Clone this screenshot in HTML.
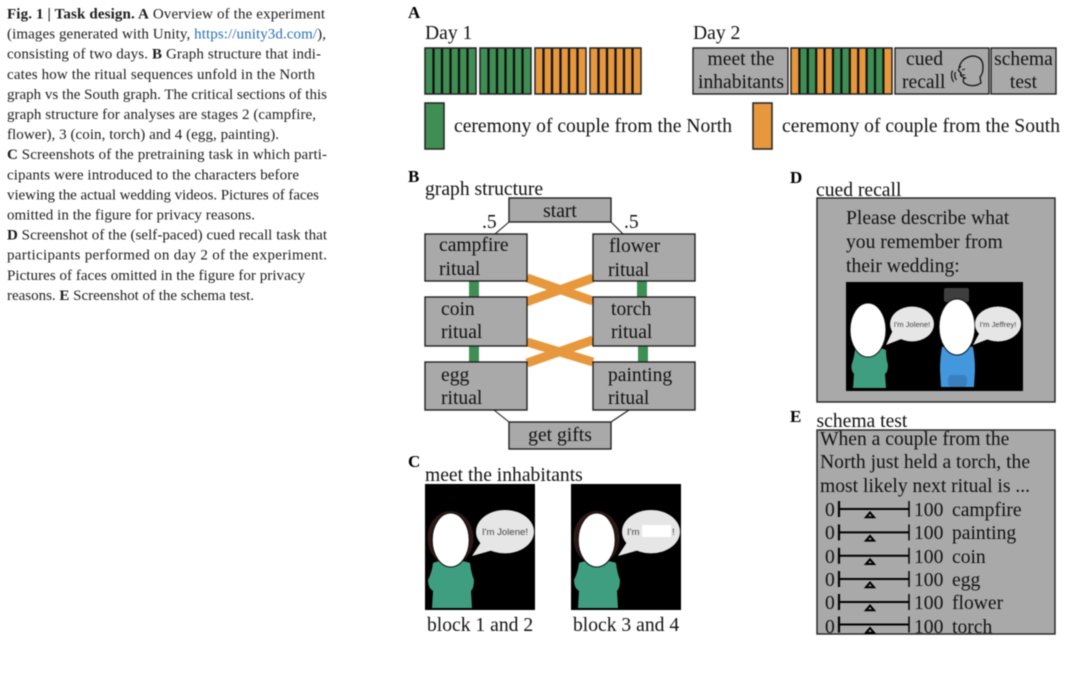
<!DOCTYPE html>
<html>
<head>
<meta charset="utf-8">
<style>
html,body{margin:0;padding:0;background:#fff;width:1080px;height:675px;overflow:hidden}
svg{display:block;filter:blur(.4px)}
text{font-family:"Liberation Serif",serif;fill:#111}
.c{font-size:15px;fill:#1c1c1c}
.t{font-size:19.6px}
.p{font-size:17px;font-weight:bold;fill:#000}
.s{font-family:"Liberation Sans",sans-serif;fill:#444}
.box{fill:#a9a9a9;stroke:#1c1c1c;stroke-width:1.35}
.m{text-anchor:middle}
</style>
</head>
<body>
<svg width="1080" height="675" viewBox="0 0 1080 675" xmlns="http://www.w3.org/2000/svg">
<defs>
<g id="gb"><rect x="0" y="0" width="51" height="46" fill="#3f8f55"/><path d="M8.5 0V46M17 0V46M25.5 0V46M34 0V46M42.5 0V46" stroke="#111" stroke-width="2.3"/><rect x="0" y="0" width="51" height="46" fill="none" stroke="#222" stroke-width="1.5"/></g>
<g id="ob"><rect x="0" y="0" width="51" height="46" fill="#e8983c"/><path d="M8.5 0V46M17 0V46M25.5 0V46M34 0V46M42.5 0V46" stroke="#111" stroke-width="2.3"/><rect x="0" y="0" width="51" height="46" fill="none" stroke="#222" stroke-width="1.5"/></g>
<g id="sl" fill="none" stroke="#000"><path d="M839 -8V8" stroke-width="2.2"/><path d="M839 0H909" stroke-width="2"/><path d="M909 -8V8" stroke-width="1.5"/><path d="M870 3.5L874 8.2H866Z" stroke-width="2" fill="#a9a9a9"/></g>
<g id="wm">
<rect x="0" y="0" width="110" height="126" fill="#000"/>
<ellipse cx="25.5" cy="54" rx="23" ry="27" fill="#301818"/>
<path d="M8 79Q14 76 25 77Q38 76 45 79Q46 88 49 96Q49 104 46 107L47 124H7L8 107Q3 104 3 96Q7 88 8 79Z" fill="#3f9e7f"/>
<ellipse cx="25.7" cy="56" rx="18.5" ry="27" fill="#fff" stroke="#111" stroke-width="1"/>
<path d="M47 72L58 55L72 65Z" fill="#e6e6e6"/>
<ellipse cx="80" cy="47.7" rx="29" ry="21.7" fill="#e6e6e6"/>
</g>
</defs>

<!-- Caption -->
<text class="c" x="7" y="18.5" textLength="318"><tspan font-weight="bold">Fig. 1 | Task design. A</tspan> Overview of the experiment</text>
<text class="c" x="7" y="38.6" textLength="319">(images generated with Unity, <tspan fill="#2a6fb0">https://unity3d.com/</tspan>),</text>
<text class="c" x="7" y="58.7" textLength="314">consisting of two days. <tspan font-weight="bold">B</tspan> Graph structure that indi-</text>
<text class="c" x="7" y="78.8" textLength="308">cates how the ritual sequences unfold in the North</text>
<text class="c" x="7" y="98.9" textLength="320">graph vs the South graph. The critical sections of this</text>
<text class="c" x="7" y="119" textLength="309">graph structure for analyses are stages 2 (campfire,</text>
<text class="c" x="7" y="139.1" textLength="272">flower), 3 (coin, torch) and 4 (egg, painting).</text>
<text class="c" x="7" y="159.2" textLength="320"><tspan font-weight="bold">C</tspan> Screenshots of the pretraining task in which parti-</text>
<text class="c" x="7" y="179.3" textLength="292">cipants were introduced to the characters before</text>
<text class="c" x="7" y="199.4" textLength="312">viewing the actual wedding videos. Pictures of faces</text>
<text class="c" x="7" y="219.5" textLength="248">omitted in the figure for privacy reasons.</text>
<text class="c" x="7" y="239.6" textLength="320"><tspan font-weight="bold">D</tspan> Screenshot of the (self-paced) cued recall task that</text>
<text class="c" x="7" y="259.7" textLength="320">participants performed on day 2 of the experiment.</text>
<text class="c" x="7" y="279.8" textLength="298">Pictures of faces omitted in the figure for privacy</text>
<text class="c" x="7" y="299.9" textLength="247">reasons. <tspan font-weight="bold">E</tspan> Screenshot of the schema test.</text>

<!-- Panel A -->
<text class="p" x="408" y="18">A</text>
<text class="t" x="425" y="39">Day 1</text>
<text class="t" x="693" y="39">Day 2</text>
<use href="#gb" x="425" y="48"/>
<use href="#gb" x="480" y="48"/>
<use href="#ob" x="535" y="48"/>
<use href="#ob" x="590" y="48"/>
<rect class="box" x="693" y="48" width="95" height="46"/>
<text class="t m" x="741" y="65">meet the</text>
<text class="t m" x="741" y="88">inhabitants</text>
<g>
<rect x="791" y="48" width="101" height="46" fill="#e8983c"/>
<rect x="799.4" y="48" width="16.8" height="46" fill="#3f8f55"/>
<rect x="833" y="48" width="16.8" height="46" fill="#3f8f55"/>
<rect x="866.6" y="48" width="16.8" height="46" fill="#3f8f55"/>
<path d="M799.4 48V94M807.8 48V94M816.2 48V94M824.6 48V94M833 48V94M841.4 48V94M849.8 48V94M858.2 48V94M866.6 48V94M875 48V94M883.4 48V94" stroke="#111" stroke-width="2.2"/>
<rect x="791" y="48" width="101" height="46" fill="none" stroke="#222" stroke-width="1.5"/>
</g>
<rect class="box" x="895" y="48" width="94" height="46"/>
<text class="t" x="906" y="65">cued</text>
<text class="t" x="902" y="88">recall</text>
<path d="M959 68Q961 58 972 56Q983 56 983 67Q983 74 980 77L981 83Q975 87 968 85L964 83Q962 79 965 78Q959 76 961 73L958 70" fill="none" stroke="#111" stroke-width="1.25"/>
<path d="M958 70L961 66M962 70L965 69M961 75L965 75" fill="none" stroke="#111" stroke-width="1"/>
<path d="M955.5 72Q953.5 76 956.5 80M952.5 70.5Q950 76 953.5 82" fill="none" stroke="#111" stroke-width="1.2"/>
<rect class="box" x="991" y="48" width="65" height="46"/>
<text class="t m" x="1023.5" y="65">schema</text>
<text class="t m" x="1023.5" y="88">test</text>
<rect x="425" y="103" width="19" height="46" fill="#3f8f55" stroke="#222" stroke-width="1.5"/>
<text class="t" x="454" y="132">ceremony of couple from the North</text>
<rect x="753" y="103" width="19" height="46" fill="#e8983c" stroke="#222" stroke-width="1.5"/>
<text class="t" x="782" y="132">ceremony of couple from the South</text>

<!-- Panel B -->
<text class="p" x="408" y="182">B</text>
<text class="t" x="425" y="195">graph structure</text>
<text class="t" x="482" y="228">.5</text>
<text class="t" x="624" y="228">.5</text>
<path d="M509 222L495 234M611 222L623 234M494 410L509 422M629 410L611 422" stroke="#1c1c1c" stroke-width="1.1" fill="none"/>
<path d="M474 281V297M474 346V362M642 281V297M643 346V362" stroke="#3f8f55" stroke-width="10" fill="none"/>
<path d="M527 278L593 301M526 302L593 278M527 342L593 362M527 363L593 340" stroke="#e8983c" stroke-width="9" fill="none"/>
<rect class="box" x="509" y="198" width="102" height="24"/>
<text class="t m" x="560" y="217">start</text>
<rect class="box" x="425" y="234" width="102" height="47"/>
<text class="t" x="439" y="251">campfire</text>
<text class="t" x="439" y="275">ritual</text>
<rect class="box" x="593" y="234" width="102" height="47"/>
<text class="t" x="609" y="252">flower</text>
<text class="t" x="608" y="276">ritual</text>
<rect class="box" x="425" y="297" width="102" height="49"/>
<text class="t" x="441" y="315">coin</text>
<text class="t" x="441" y="338">ritual</text>
<rect class="box" x="593" y="297" width="102" height="49"/>
<text class="t" x="611" y="315">torch</text>
<text class="t" x="611" y="338">ritual</text>
<rect class="box" x="425" y="362" width="102" height="48"/>
<text class="t" x="441" y="381">egg</text>
<text class="t" x="441" y="404">ritual</text>
<rect class="box" x="593" y="362" width="102" height="48"/>
<text class="t" x="608" y="381">painting</text>
<text class="t" x="608" y="404">ritual</text>
<rect class="box" x="509" y="422" width="102" height="27"/>
<text class="t m" x="560" y="441">get gifts</text>

<!-- Panel C -->
<text class="p" x="408" y="467">C</text>
<text class="t" x="425" y="481">meet the inhabitants</text>
<use href="#wm" x="425" y="484"/>
<text class="s" x="505" y="535" text-anchor="middle" font-size="9.6">I'm Jolene!</text>
<use href="#wm" x="571" y="484"/>
<rect x="642" y="525" width="29" height="12" fill="#fff"/>
<text class="s" x="627" y="535" font-size="9.6">I'm</text>
<text class="s" x="672" y="535" font-size="9.6">!</text>
<text class="t" x="427" y="631">block 1 and 2</text>
<text class="t" x="573" y="631">block 3 and 4</text>

<!-- Panel D -->
<text class="p" x="790" y="183">D</text>
<text class="t" x="816" y="196">cued recall</text>
<rect class="box" x="817" y="198" width="238" height="204"/>
<text class="t" x="846" y="224">Please describe what</text>
<text class="t" x="846" y="248">you remember from</text>
<text class="t" x="846" y="272">their wedding:</text>
<rect x="846" y="282" width="177" height="109" fill="#000"/>
<path d="M855 350Q860 347 868 348Q880 347 886 350Q886 358 888 365Q888 372 885 374L886 388H853L854 374Q851 371 851.5 365Q854 358 855 350Z" fill="#3f9e7f"/>
<ellipse cx="868" cy="330" rx="18" ry="27" fill="#fff" stroke="#111" stroke-width="1"/>
<path d="M886 345L893 330L904 338Z" fill="#e6e6e6"/>
<ellipse cx="912" cy="324" rx="22" ry="17.5" fill="#e6e6e6"/>
<text class="s m" x="912" y="327" font-size="7.6">I'm Jolene!</text>
<rect x="944" y="288" width="25" height="14" rx="2" fill="#3e3e3e"/>
<path d="M942 347Q957 344 973 347Q975 358 975 370L974 387H941L940 370Q940 358 942 347Z" fill="#4397dc"/>
<rect x="948" y="375" width="19" height="12" rx="4" fill="#3a7fc0"/>
<ellipse cx="957" cy="327" rx="18" ry="28" fill="#fff" stroke="#111" stroke-width="1"/>
<path d="M973 345L981 330L991 338Z" fill="#e6e6e6"/>
<ellipse cx="998" cy="324" rx="23" ry="17.5" fill="#e6e6e6"/>
<text class="s m" x="998" y="327" font-size="7.6">I'm Jeffrey!</text>

<!-- Panel E -->
<text class="p" x="790" y="422">E</text>
<text class="t" x="816.5" y="427">schema test</text>
<rect class="box" x="817" y="430" width="238" height="204"/>
<text class="t" x="820" y="445">When a couple from the</text>
<text class="t" x="820" y="468">North just held a torch, the</text>
<text class="t" x="820" y="492">most likely next ritual is ...</text>
<use href="#sl" x="0" y="509"/>
<use href="#sl" x="0" y="532.4"/>
<use href="#sl" x="0" y="555.8"/>
<use href="#sl" x="0" y="579"/>
<use href="#sl" x="0" y="602"/>
<use href="#sl" x="0" y="624.5"/>
<text class="t" x="825" y="516">0</text><text class="t" x="914" y="516">100</text><text class="t" x="952" y="516">campfire</text>
<text class="t" x="825" y="539">0</text><text class="t" x="914" y="539">100</text><text class="t" x="952" y="539">painting</text>
<text class="t" x="825" y="563">0</text><text class="t" x="914" y="563">100</text><text class="t" x="952" y="563">coin</text>
<text class="t" x="825" y="586">0</text><text class="t" x="914" y="586">100</text><text class="t" x="952" y="586">egg</text>
<text class="t" x="825" y="609">0</text><text class="t" x="914" y="609">100</text><text class="t" x="952" y="609">flower</text>
<text class="t" x="825" y="633">0</text><text class="t" x="914" y="633">100</text><text class="t" x="952" y="633">torch</text>
</svg>
</body>
</html>
